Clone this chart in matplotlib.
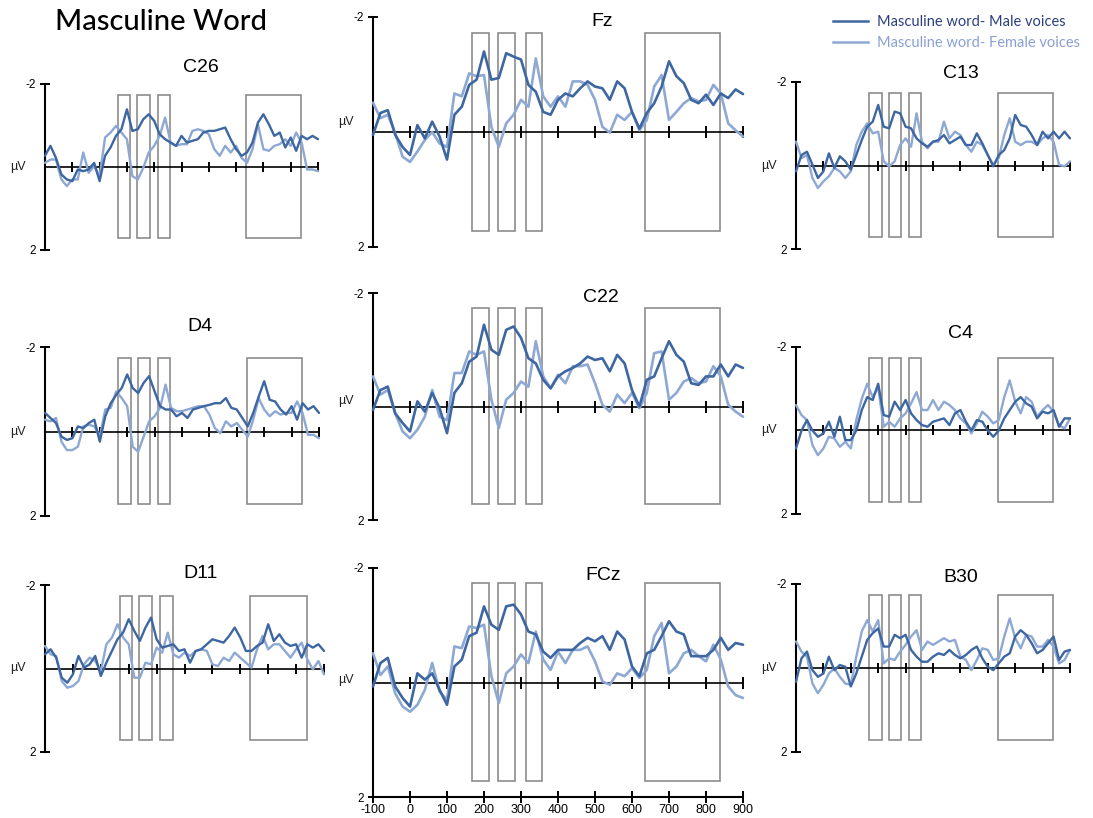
import matplotlib
matplotlib.use('Agg')
import matplotlib.pyplot as plt
import matplotlib.patches as patches
from matplotlib.lines import Line2D

W, H = 1093, 818

# time axis (ms), one sample every 20 ms
times = list(range(-100, 901, 20))

# analysis windows (ms) drawn as grey boxes
win_start = [168, 238, 313, 636]
win_end = [213, 284, 358, 838]
win_top, win_bottom = -1.73, 1.72

# amplitudes in microvolts (negative plotted up)
fz_male = [0.05, -0.33, -0.38, 0.05, 0.26, 0.40, -0.12, 0.11, -0.18, 0.08,
           0.48, -0.30, -0.44, -0.82, -0.91, -1.40, -0.91, -0.94, -1.37, -1.31,
           -1.26, -0.82, -0.70, -0.35, -0.30, -0.56, -0.67, -0.62, -0.76, -0.88,
           -0.79, -0.76, -0.56, -0.88, -0.76, -0.35, -0.06, -0.33, -0.50, -0.79,
           -1.23, -0.97, -0.85, -0.56, -0.50, -0.65, -0.47, -0.67, -0.59, -0.74,
           -0.66]
fz_female = [-0.51, -0.24, -0.30, 0.02, 0.43, 0.52, 0.34, 0.14, 0.00, 0.20,
             0.26, -0.67, -0.62, -1.02, -0.97, -0.99, -0.09, 0.26, -0.15, -0.30,
             -0.56, -0.44, -1.28, -0.62, -0.44, -0.62, -0.44, -0.88, -0.88, -0.82,
             -0.56, -0.09, 0.01, -0.30, -0.21, -0.35, -0.03, -0.21, -0.79, -0.99,
             -0.21, -0.35, -0.50, -0.59, -0.53, -0.56, -0.82, -0.67, -0.15, -0.03,
             0.08]
c22_male = [0.06, -0.29, -0.35, 0.12, 0.29, 0.44, -0.09, 0.09, -0.24, 0.03,
            0.47, -0.24, -0.41, -0.79, -0.88, -1.44, -1.00, -0.91, -1.35, -1.41,
            -1.21, -0.85, -0.76, -0.47, -0.32, -0.53, -0.62, -0.68, -0.76, -0.88,
            -0.82, -0.85, -0.62, -0.91, -0.76, -0.29, 0.00, -0.47, -0.53, -0.85,
            -1.15, -0.91, -0.79, -0.41, -0.38, -0.53, -0.53, -0.74, -0.53, -0.74,
            -0.68]
c22_female = [-0.53, -0.21, -0.29, 0.12, 0.44, 0.56, 0.41, 0.18, -0.29, 0.18,
              0.24, -0.59, -0.59, -0.97, -0.91, -0.97, -0.12, 0.38, -0.12, -0.24,
              -0.44, -0.35, -1.15, -0.53, -0.32, -0.56, -0.41, -0.71, -0.71, -0.74,
              -0.41, -0.03, 0.09, -0.21, -0.06, -0.24, 0.03, -0.24, -0.94, -0.97,
              -0.12, -0.24, -0.44, -0.50, -0.41, -0.44, -0.71, -0.53, -0.03, 0.09,
              0.18]
fcz_male = [0.07, -0.34, -0.43, 0.07, 0.27, 0.42, -0.16, -0.05, -0.16, 0.13,
            0.39, -0.28, -0.40, -0.81, -0.87, -1.33, -1.01, -0.92, -1.33, -1.36,
            -1.19, -0.89, -0.84, -0.54, -0.43, -0.57, -0.57, -0.57, -0.69, -0.78,
            -0.72, -0.81, -0.57, -0.89, -0.75, -0.28, -0.11, -0.51, -0.57, -0.81,
            -1.07, -0.89, -0.84, -0.46, -0.46, -0.46, -0.57, -0.78, -0.57, -0.69,
            -0.66]
fcz_female = [-0.51, -0.13, -0.28, 0.19, 0.42, 0.51, 0.39, 0.13, -0.34, 0.16,
              0.30, -0.63, -0.60, -0.98, -0.95, -1.01, -0.11, 0.36, -0.16, -0.28,
              -0.49, -0.34, -0.89, -0.40, -0.22, -0.54, -0.34, -0.57, -0.57, -0.63,
              -0.37, -0.02, 0.04, -0.16, -0.11, -0.25, -0.08, -0.22, -0.81, -1.04,
              -0.16, -0.28, -0.51, -0.57, -0.46, -0.37, -0.66, -0.40, 0.07, 0.22,
              0.27]
c26_male = [-0.27, -0.51, -0.22, 0.18, 0.30, 0.34, 0.06, 0.10, 0.06, -0.10,
            0.34, -0.27, -0.47, -0.75, -0.91, -1.39, -0.87, -0.91, -1.15, -1.27,
            -1.11, -0.79, -0.67, -0.59, -0.51, -0.75, -0.59, -0.63, -0.67, -0.83,
            -0.87, -0.87, -0.91, -0.95, -0.67, -0.43, -0.27, -0.35, -0.59, -1.07,
            -1.27, -1.03, -0.75, -0.83, -0.47, -0.71, -0.39, -0.75, -0.67, -0.75,
            -0.67]
c26_female = [-0.10, -0.18, -0.18, 0.30, 0.46, 0.30, 0.30, -0.35, 0.14, -0.02,
              0.22, -0.71, -0.83, -0.99, -0.83, -0.67, 0.22, 0.30, 0.02, -0.35,
              -0.51, -0.75, -1.19, -0.59, -0.51, -0.55, -0.55, -0.87, -0.91, -0.87,
              -0.79, -0.43, -0.27, -0.51, -0.35, -0.51, -0.22, -0.10, -0.43, -1.03,
              -0.43, -0.39, -0.51, -0.55, -0.67, -0.51, -0.83, -0.59, 0.06, 0.06,
              0.10]
d4_male = [-0.44, -0.32, -0.20, 0.12, 0.20, 0.16, -0.12, -0.08, -0.20, -0.28,
           0.24, -0.36, -0.67, -0.87, -1.03, -1.35, -1.03, -0.91, -1.15, -1.31,
           -0.95, -0.60, -0.52, -0.52, -0.36, -0.44, -0.32, -0.52, -0.56, -0.60,
           -0.63, -0.67, -0.67, -0.79, -0.56, -0.52, -0.32, -0.12, -0.44, -0.83,
           -1.19, -0.75, -0.71, -0.52, -0.40, -0.60, -0.28, -0.67, -0.52, -0.60,
           -0.44]
d4_female = [-0.28, -0.24, -0.32, 0.24, 0.44, 0.44, 0.36, -0.12, -0.16, -0.12,
             0.12, -0.52, -0.56, -0.95, -0.79, -0.60, 0.36, 0.48, 0.12, -0.24,
             -0.36, -0.56, -1.11, -0.56, -0.48, -0.48, -0.52, -0.56, -0.60, -0.60,
             -0.40, -0.08, 0.04, -0.24, -0.12, -0.20, -0.04, 0.12, -0.28, -0.79,
             -0.52, -0.36, -0.48, -0.40, -0.44, -0.44, -0.71, -0.44, 0.08, 0.08,
             0.16]
d11_male = [-0.34, -0.46, -0.26, 0.22, 0.34, 0.14, -0.30, -0.02, -0.10, -0.30,
            0.18, -0.14, -0.42, -0.70, -0.86, -1.18, -0.90, -0.66, -0.98, -1.22,
            -0.70, -0.50, -0.54, -0.58, -0.42, -0.46, -0.14, -0.42, -0.46, -0.58,
            -0.70, -0.66, -0.62, -0.78, -0.98, -0.74, -0.42, -0.42, -0.54, -0.62,
            -1.06, -0.66, -0.82, -0.62, -0.54, -0.58, -0.26, -0.58, -0.50, -0.58,
            -0.42]
d11_female = [-0.54, -0.34, -0.30, 0.30, 0.46, 0.42, 0.30, -0.10, -0.26, -0.18,
              0.06, -0.58, -0.74, -1.06, -0.74, -0.58, 0.22, 0.22, -0.14, -0.10,
              -0.50, -0.38, -0.86, -0.34, -0.26, -0.38, -0.30, -0.42, -0.46, -0.42,
              -0.10, -0.06, -0.26, -0.18, -0.38, -0.26, -0.14, -0.02, -0.46, -0.78,
              -0.46, -0.58, -0.58, -0.42, -0.26, -0.46, -0.62, -0.22, 0.02, -0.18,
              0.14]
c13_male = [0.14, -0.25, -0.33, -0.02, 0.30, 0.14, -0.29, 0.06, -0.22, -0.10,
            0.10, -0.25, -0.61, -0.93, -1.05, -1.45, -0.93, -0.89, -1.29, -1.25,
            -0.93, -0.89, -0.65, -0.53, -0.45, -0.57, -0.61, -0.73, -0.53, -0.61,
            -0.69, -0.49, -0.49, -0.77, -0.53, -0.25, 0.02, -0.25, -0.37, -0.65,
            -1.21, -0.97, -0.93, -0.73, -0.49, -0.81, -0.65, -0.81, -0.65, -0.81,
            -0.65]
c13_female = [-0.57, -0.18, -0.25, 0.30, 0.54, 0.38, 0.26, 0.06, 0.14, 0.30,
              0.14, -0.49, -0.81, -1.01, -0.77, -0.81, -0.10, 0.02, -0.10, -0.49,
              -0.65, -0.45, -1.25, -0.57, -0.41, -0.57, -0.57, -1.05, -0.65, -0.81,
              -0.73, -0.49, -0.33, -0.57, -0.49, -0.25, -0.02, -0.18, -0.73, -1.13,
              -0.57, -0.49, -0.57, -0.57, -0.49, -0.65, -0.73, -0.57, -0.02, 0.02,
              -0.10]
c4_male = [0.43, 0.00, -0.25, 0.00, 0.15, 0.07, -0.21, 0.15, -0.33, 0.23,
           0.23, 0.00, -0.49, -0.80, -0.73, -1.12, -0.37, -0.33, -0.69, -0.49,
           -0.73, -0.41, -0.25, -0.13, -0.09, -0.21, -0.25, -0.29, -0.13, -0.41,
           -0.49, -0.21, 0.00, -0.25, -0.21, 0.00, 0.15, 0.00, -0.29, -0.49,
           -0.69, -0.80, -0.65, -0.57, -0.29, -0.45, -0.41, -0.49, -0.09, -0.29,
           -0.29]
c4_female = [-0.61, -0.37, -0.25, 0.35, 0.59, 0.43, 0.15, 0.19, 0.39, 0.27,
             0.43, -0.25, -0.76, -1.12, -0.80, -1.04, -0.09, -0.21, -0.09, -0.29,
             -0.41, -0.65, -0.92, -0.49, -0.49, -0.73, -0.49, -0.69, -0.61, -0.49,
             -0.29, -0.17, 0.07, -0.17, -0.45, -0.33, -0.17, -0.25, -0.80, -1.20,
             -0.69, -0.41, -0.80, -0.69, -0.33, -0.49, -0.61, -0.45, -0.13, -0.05,
             -0.29]
b30_male = [0.33, -0.23, -0.39, 0.05, 0.21, 0.13, -0.27, 0.05, -0.07, -0.03,
            0.44, 0.13, -0.27, -0.67, -0.83, -0.94, -0.51, -0.51, -0.79, -0.71,
            -0.79, -0.43, -0.27, -0.15, -0.15, -0.27, -0.35, -0.31, -0.43, -0.31,
            -0.23, -0.31, -0.43, -0.51, -0.23, -0.03, 0.05, -0.11, -0.27, -0.35,
            -0.75, -0.90, -0.79, -0.59, -0.35, -0.43, -0.59, -0.75, -0.19, -0.39,
            -0.43]
b30_female = [-0.63, -0.39, -0.27, 0.37, 0.60, 0.40, 0.13, 0.01, 0.21, 0.37,
              0.40, -0.27, -0.87, -1.14, -0.87, -1.14, -0.11, -0.23, -0.19, -0.39,
              -0.55, -0.75, -0.90, -0.43, -0.63, -0.55, -0.63, -0.71, -0.63, -0.67,
              -0.27, -0.19, 0.05, -0.19, -0.47, -0.43, -0.19, -0.23, -0.75, -1.18,
              -0.71, -0.47, -0.79, -0.75, -0.51, -0.51, -0.67, -0.51, -0.11, -0.19,
              -0.43]

male_color = '#3e67a2'
female_color = '#8ea8d4'

# name, male, female, axes box in px (l, t, r, b), title centre px, uV label y, column
panels = [
    ('C26', c26_male, c26_female, (45, 84, 318, 250), (201, 68), 0.0, 'side'),
    ('Fz', fz_male, fz_female, (373, 17, 743, 247), (602, 22), -0.17, 'mid'),
    ('C13', c13_male, c13_female, (796, 82, 1070, 249), (961, 74), 0.0, 'side'),
    ('D4', d4_male, d4_female, (45, 347, 319, 516), (200, 327), 0.0, 'side'),
    ('C22', c22_male, c22_female, (373, 293, 743, 520), (601, 297), -0.09, 'mid'),
    ('C4', c4_male, c4_female, (796, 347, 1070, 514), (961, 333), 0.0, 'side'),
    ('D11', d11_male, d11_female, (45, 585, 324, 752), (201, 573), 0.0, 'side'),
    ('FCz', fcz_male, fcz_female, (373, 568, 743, 797), (603, 575), -0.05, 'mid'),
    ('B30', b30_male, b30_female, (796, 584, 1070, 752), (961, 578), 0.0, 'side'),
]

plt.rcParams['font.family'] = ['Liberation Sans', 'DejaVu Sans']
plt.rcParams['axes.unicode_minus'] = False

fig = plt.figure(figsize=(W / 100, H / 100), dpi=100)
fig.patch.set_facecolor('white')

for name, male, female, rect, tpos, uv_y, col in panels:
    l, t, r, b = rect
    ax = fig.add_axes([l / W, 1 - b / H, (r - l) / W, (b - t) / H])
    ax.set_xlim(-100, 900)
    ax.set_ylim(2, -2)
    ax.patch.set_alpha(0)

    for s, e in zip(win_start, win_end):
        ax.add_patch(patches.Rectangle((s, win_top), e - s, win_bottom - win_top,
                                       fill=False, edgecolor='#8c8c8c', lw=1.2, zorder=1))

    lw = 1.9 if col == 'mid' else 1.7
    ax.plot(times, female, color=female_color, lw=lw, zorder=3, clip_on=False,
            solid_joinstyle='round', solid_capstyle='round')
    ax.plot(times, male, color=male_color, lw=lw, zorder=4, clip_on=False,
            solid_joinstyle='round', solid_capstyle='round')

    for side in ['top', 'right']:
        ax.spines[side].set_visible(False)
    ax.spines['left'].set_linewidth(1.5)
    ax.spines['bottom'].set_position(('data', 0))
    ax.spines['bottom'].set_linewidth(1.2)
    ax.spines['bottom'].set_zorder(2)

    tick_len = 8.5 if col == 'mid' else 6.5
    ax.set_xticks(range(0, 901, 100))
    ax.xaxis.set_ticklabels([])
    ax.tick_params(axis='x', direction='inout', length=tick_len, width=1.4, color='black')
    ax.set_yticks([-2, 2])
    ax.set_yticklabels(['-2', '2'])
    ax.tick_params(axis='y', direction='inout', length=6.5, width=1.4, pad=3,
                   labelsize=8.5, colors='black')

    ax.annotate('µV', xy=(-100, uv_y), xytext=(-14, 0), textcoords='offset points',
                ha='right', va='center', fontsize=9, color='#222222',
                annotation_clip=False)

    fig.text(tpos[0] / W, 1 - tpos[1] / H, name, ha='center', va='center',
             fontsize=14, color='black')

    if name == 'FCz':
        sec = ax.secondary_xaxis('bottom')
        sec.set_xticks(range(-100, 901, 100))
        sec.spines['bottom'].set_linewidth(1.5)
        sec.tick_params(direction='inout', length=8.5, width=1.4, pad=1, labelsize=9)

fig.text(55 / W, 1 - 22 / H, 'Masculine Word', ha='left', va='center',
         fontsize=21, family=['Lato', 'DejaVu Sans'], fontweight='medium', color='black')

handles = [Line2D([], [], color=male_color, lw=1.8),
           Line2D([], [], color=female_color, lw=1.8)]
fig.legend(handles, ['Masculine word- Male voices', 'Masculine word- Female voices'],
           loc='upper left', bbox_to_anchor=(826 / W, 1 - 8 / H), frameon=False,
           borderpad=0, handlelength=2.4, handletextpad=0.6, labelspacing=0.45,
           prop={'family': ['Lato', 'DejaVu Sans'], 'size': 10.5},
           labelcolor=['#2c3f80', '#8a9fd3'])

fig.savefig('out.png', dpi=100)
